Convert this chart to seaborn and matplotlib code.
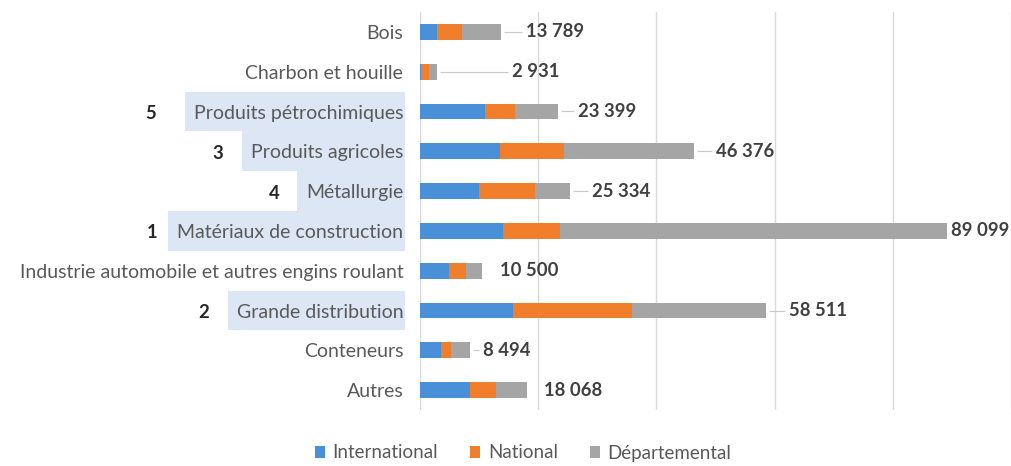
import matplotlib
matplotlib.use("Agg")
import matplotlib.pyplot as plt
import seaborn as sns
import numpy as np
import pandas as pd
from matplotlib.patches import Rectangle
from matplotlib.transforms import blended_transform_factory

# ---------------- data ----------------
categories = ["Bois", "Charbon et houille", "Produits pétrochimiques",
              "Produits agricoles", "Métallurgie", "Matériaux de construction",
              "Industrie automobile et autres engins roulant",
              "Grande distribution", "Conteneurs", "Autres"]
international = [2900, 200, 11000, 13500, 10000, 14100, 4900, 15800, 3600, 8500]
national = [4200, 1400, 5100, 10900, 9500, 9600, 2900, 20100, 1700, 4300]
totals = [13789, 2931, 23399, 46376, 25334, 89099, 10500, 58511, 8494, 18068]
departemental = [t - i - n for t, i, n in zip(totals, international, national)]
ranks = {"Produits pétrochimiques": "5", "Produits agricoles": "3",
         "Métallurgie": "4", "Matériaux de construction": "1",
         "Grande distribution": "2"}
series_names = ["International", "National", "Départemental"]

# ---------------- style / layout ----------------
colors = ["#4A90D9", "#F07E2B", "#A5A5A5"]
label_gap_px = [25, 75, 20, 22, 22, 4, 18, 23, 13, 17]
leader = [1, 1, 1, 1, 1, 0, 0, 1, 1, 0]
rank_offset_px = {"5": 34, "3": 24, "4": 23, "1": 16, "2": 24}

sns.set_theme(style="white")
FAM = ["Lato", "DejaVu Sans"]
plt.rcParams["font.family"] = FAM

W, H, DPI = 1011, 466, 100
fig = plt.figure(figsize=(W / DPI, H / DPI), dpi=DPI)
left_px, right_px, top_px, bot_px = 420, 1011, 12, 410
ax = fig.add_axes([left_px / W, 1 - bot_px / H, (right_px - left_px) / W,
                   (bot_px - top_px) / H])
renderer = fig.canvas.get_renderer()


def fit_size(text, target_px, weight="normal"):
    t = fig.text(0, 0, text, fontsize=10, fontweight=weight, family=FAM)
    w = t.get_window_extent(renderer).width
    t.remove()
    return 10 * target_px / w


cat_fs = fit_size(categories[6], 385)
val_fs = fit_size("58 511", 58, "bold")
leg_fs = fit_size("International", 105)

df = pd.DataFrame({"cat": categories,
                   "c1": international,
                   "c2": np.array(international) + np.array(national),
                   "c3": np.array(international) + np.array(national) + np.array(departemental)})

# draw back-to-front: total (gray), intl+nat (orange), intl (blue)
for col, name, c in [("c3", series_names[2], colors[2]),
                     ("c2", series_names[1], colors[1]),
                     ("c1", series_names[0], colors[0])]:
    sns.barplot(data=df, x=col, y="cat", order=categories, orient="h",
                color=c, width=0.4, saturation=1, label=name, ax=ax,
                linewidth=0)

ax.set_xlim(0, 100000)
ax.set_ylim(len(categories) - 0.5, -0.5)
ax.set_xticks(np.arange(0, 100001, 20000))
ax.set_xticklabels([])
ax.grid(axis="x", color="#D9D9D9", linewidth=1)
ax.set_axisbelow(True)
for s in ax.spines.values():
    s.set_visible(False)
ax.set_xlabel("")
ax.set_ylabel("")
ax.tick_params(axis="y", length=0, pad=12, labelsize=cat_fs, labelcolor="#595959")
ax.tick_params(axis="x", length=0)
if ax.get_legend() is not None:
    ax.get_legend().remove()

dpp = 100000 / (right_px - left_px)  # data units per pixel

# value labels with leader lines
for i, (tot, gap, ld) in enumerate(zip(totals, label_gap_px, leader)):
    lab = f"{tot:,}".replace(",", " ")
    ax.text(tot + gap * dpp, i, lab, ha="left", va="center", fontsize=val_fs,
            fontweight="bold", color="#404040", clip_on=False)
    if ld:
        ax.plot([tot + 3 * dpp, tot + (gap - 4) * dpp], [i, i], color="#C8C8C8",
                linewidth=0.8, solid_capstyle="butt", clip_on=False)

# highlight boxes & rank numbers
fig.canvas.draw()
trans = blended_transform_factory(fig.transFigure, ax.transData)
for tl in ax.get_yticklabels():
    name = tl.get_text()
    if name in ranks:
        i = categories.index(name)
        bb = tl.get_window_extent(renderer)
        x0 = bb.x0 - 9
        x1 = left_px - 15
        rect = Rectangle((x0 / W, i - 0.5), (x1 - x0) / W, 1.0,
                         transform=trans, facecolor="#DCE6F4", edgecolor="none",
                         zorder=0, clip_on=False)
        fig.add_artist(rect)
        r = ranks[name]
        fig.text((x0 - rank_offset_px[r]) / W, i + 0.05, r, transform=trans,
                 ha="center", va="center", fontsize=cat_fs * 0.95,
                 fontweight="bold", color="#262626")

# legend
handles = [Rectangle((0, 0), 1, 1, facecolor=c, edgecolor="none") for c in colors]
fig.legend(handles, series_names, loc="center", bbox_to_anchor=(523 / W, 1 - 453 / H),
           ncol=3, frameon=False, fontsize=leg_fs, handlelength=0.55,
           handleheight=0.55, handletextpad=0.4, columnspacing=1.7,
           labelcolor="#595959")

fig.savefig("out.png", dpi=DPI, facecolor="white")
